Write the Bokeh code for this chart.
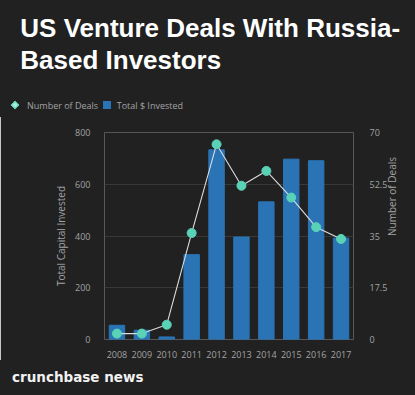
import math
from bokeh.plotting import figure
from bokeh.layouts import column
from bokeh.models import Range1d, LinearAxis, FixedTicker, NumeralTickFormatter, Div
from bokeh.embed import file_html
from bokeh.resources import INLINE

years = ["2008", "2009", "2010", "2011", "2012", "2013", "2014", "2015", "2016", "2017"]
invested = [55, 36, 10, 328, 733, 396, 532, 697, 691, 392]
deals = [2, 2, 5, 36, 66, 52, 57, 48, 38, 34]
left_ticks = [0, 200, 400, 600, 800]
right_ticks = [0, 17.5, 35, 52.5, 70]
title_lines = ["US Venture Deals With Russia-", "Based Investors"]
legend_labels = ["Number of Deals", "Total $ Invested"]
footer_text = "crunchbase news"

BG = "#212121"
GRAY = "#a3a3a3"
BAR = "#2a74b5"
DOT = "#5ad2b6"
TICKFONT = "Open Sans"
W = 415
HEAD_H = 116
FOOT_H = 35
MAIN_H = 395 - HEAD_H - FOOT_H

# ---- header: title + legend (HTML text) ----
head_html = (
    f'<div style="position:relative;width:{W}px;height:{HEAD_H + 1}px;background:{BG};overflow:hidden;">'
    f'<div style="position:absolute;left:20.3px;top:11.8px;font-family:\'Liberation Sans\';'
    f'font-weight:bold;font-size:26px;line-height:32.3px;color:#ffffff;white-space:nowrap;">'
    f'{title_lines[0]}<br>{title_lines[1]}</div>'
    f'<div style="position:absolute;left:12px;top:101.8px;width:6px;height:6px;'
    f'background:#a6efdc;border:1.5px solid {DOT};transform:rotate(45deg);"></div>'
    f'<div style="position:absolute;left:27px;top:99.5px;font-family:\'{TICKFONT}\';'
    f'font-size:9px;line-height:12px;color:{GRAY};white-space:nowrap;">{legend_labels[0]}</div>'
    f'<div style="position:absolute;left:103px;top:101.3px;width:8px;height:8px;background:{BAR};"></div>'
    f'<div style="position:absolute;left:116.7px;top:99.5px;font-family:\'{TICKFONT}\';'
    f'font-size:9px;line-height:12px;color:{GRAY};white-space:nowrap;">{legend_labels[1]}</div>'
    f'</div>'
)
head = Div(text=head_html, width=W, height=HEAD_H, margin=0)

# ---- main chart ----
p = figure(width=W, height=MAIN_H, x_range=years, y_range=Range1d(0, 800),
           output_backend="svg", toolbar_location=None,
           min_border_left=104, min_border_right=62, min_border_bottom=MAIN_H - 16 - 207,
           min_border_top=16,
           background_fill_color=BG, border_fill_color=BG, outline_line_color=None)
p.extra_y_ranges = {"deals": Range1d(0, 70)}

p.vbar(x=years, top=invested, width=0.62, color=BAR)
p.line(x=years, y=deals, y_range_name="deals", line_color="#dcdcdc", line_width=1.1)
p.scatter(x=years, y=deals, y_range_name="deals", size=9, fill_color=DOT, line_color=DOT)


def style_axis(ax):
    ax.axis_line_color = None
    ax.major_tick_line_color = None
    ax.minor_tick_line_color = None
    ax.major_label_text_color = GRAY
    ax.major_label_text_font = TICKFONT
    ax.major_label_text_font_size = "9px"
    ax.axis_label_text_color = GRAY
    ax.axis_label_text_font = TICKFONT
    ax.axis_label_text_font_size = "10px"
    ax.axis_label_text_font_style = "normal"


yl = p.yaxis[0]
yl.ticker = FixedTicker(ticks=left_ticks)
yl.axis_label = "Total Capital Invested"
style_axis(yl)
yl.major_label_standoff = 8
yl.axis_label_standoff = 4

yr = LinearAxis(y_range_name="deals", ticker=FixedTicker(ticks=right_ticks),
                formatter=NumeralTickFormatter(format="0.[0]"), axis_label="Number of Deals")
style_axis(yr)
yr.major_label_standoff = 10
yr.axis_label_standoff = 2
yr.axis_label_orientation = math.pi / 2
p.add_layout(yr, "right")

xa = p.xaxis[0]
style_axis(xa)
xa.major_label_standoff = 5

p.ygrid.ticker = FixedTicker(ticks=left_ticks)
p.ygrid.grid_line_color = "#383838"
p.xgrid.grid_line_color = None

# ---- footer ----
foot_html = (
    f'<div style="position:relative;width:{W}px;height:{FOOT_H}px;background:{BG};overflow:hidden;">'
    f'<div style="position:absolute;left:12px;top:8.8px;font-family:\'DejaVu Sans\';'
    f'font-weight:bold;font-size:13.5px;line-height:16px;color:#f2f2f2;white-space:nowrap;">'
    f'{footer_text}</div></div>'
)
foot = Div(text=foot_html, width=W, height=FOOT_H, margin=0)

layout = column(head, p, foot, spacing=0)
open("out.html", "w").write(file_html(layout, INLINE))
